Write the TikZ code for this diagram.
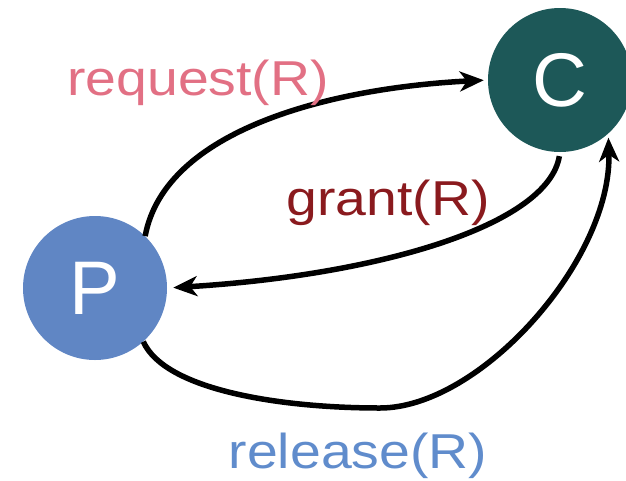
\documentclass[tikz,border=0pt]{standalone}
\usepackage{fontspec}
\setmainfont{Liberation Sans}
\usetikzlibrary{arrows.meta}

\definecolor{pfill}{RGB}{96,134,196}
\definecolor{cfill}{RGB}{29,88,88}
\definecolor{reqcol}{RGB}{226,112,132}
\definecolor{grantcol}{RGB}{138,26,30}
\definecolor{relcol}{RGB}{96,140,204}

\tikzset{
  agent/.style={circle, minimum size=144pt, inner sep=0pt, text=white,
    font=\fontsize{76}{76}\selectfont},
  link/.style={line width=5.5pt, black,
    -{Stealth[length=24pt, width=20pt, inset=7pt]}},
  msg/.style={anchor=base, inner sep=0pt, font=\fontsize{49}{49}\selectfont}
}

\newcommand{\wide}[1]{\scalebox{1.13}[1]{#1}}

\begin{document}
\begin{tikzpicture}[x=1pt, y=-1pt]
  \useasboundingbox (0,0) rectangle (626,480);

  % processes
  \node[agent, fill=pfill] (P) at (95,288) {P};
  \node[agent, fill=cfill] (C) at (560,80) {C};

  % lowest point of the release loop
  \coordinate (relbot) at (380,408);

  % messages between P and C
  \draw[link, shorten >=4pt] (P.46) .. controls (165,130) and (330,88) .. (C.180);
  \draw[link, shorten <=4pt, shorten >=6pt] (C.-90) .. controls (548,225) and (380,275) .. (P.0);
  \draw[link, shorten >=4pt] (P.-48) .. controls (165,390) and (280,408) .. (relbot)
        .. controls (480,408) and (612,260) .. (C.-48);

  % labels
  \node[msg, text=reqcol] (lreq) at (198,95) {\wide{request(R)}};
  \node[msg, text=grantcol] (lgrant) at (388,215) {\wide{grant(R)}};
  \node[msg, text=relcol] (lrel) at (358,468) {\wide{release(R)}};
\end{tikzpicture}
\end{document}
